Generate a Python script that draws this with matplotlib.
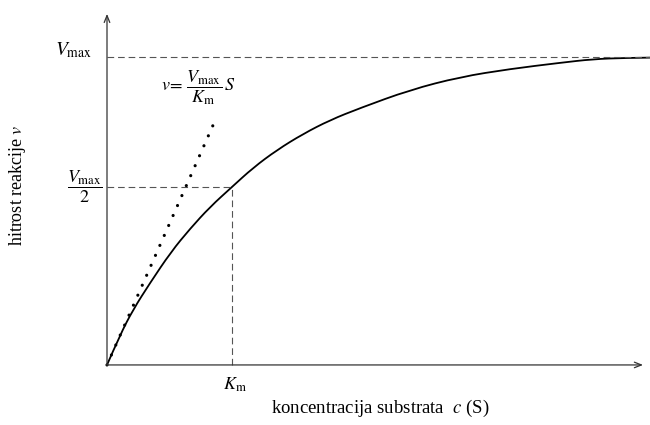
import numpy as np
import matplotlib
matplotlib.use('Agg')
import matplotlib.pyplot as plt
from matplotlib.path import Path
from matplotlib.patches import PathPatch

# Km = 1, Vmax = 1
s_vals = [0, 0.104, 0.208, 0.344, 0.512, 0.664, 0.824, 1.0, 1.168, 1.36,
          1.568, 1.784, 2.024, 2.424, 2.824, 3.224, 3.624, 3.888, 4.144, 4.36]
v_vals = [0, 0.097, 0.179, 0.266, 0.367, 0.442, 0.513, 0.578, 0.640, 0.698,
          0.750, 0.795, 0.834, 0.893, 0.935, 0.961, 0.981, 0.993, 0.997, 0.998]
v_max = 1.0
v_half = 0.578
k_m = 1.0
tangent_s = [0, 0.85]
tangent_v = [0, 0.78]

plt.rcParams['font.family'] = ['Liberation Serif', 'DejaVu Serif']
plt.rcParams['mathtext.fontset'] = 'stix'


def smooth_path(xs, ys):
    # quadratic bezier through midpoints, points used as control points
    pts = np.column_stack([xs, ys])
    verts = [pts[0]]
    codes = [Path.MOVETO]
    for i in range(1, len(pts) - 1):
        end = pts[i + 1] if i == len(pts) - 2 else (pts[i] + pts[i + 1]) / 2
        verts += [pts[i], end]
        codes += [Path.CURVE3, Path.CURVE3]
    return Path(verts, codes)


fig = plt.figure(figsize=(6.5, 4.25), dpi=100)
ax = fig.add_axes([0, 0, 1, 1])
ax.set_xlim(-0.856, 4.344)
ax.set_ylim(-0.195, 1.185)
ax.axis('off')

axis_col = '#333333'
dash_col = '#555555'

# axes with arrows
ax.annotate('', xy=(4.288, 0), xytext=(0, 0),
            arrowprops=dict(arrowstyle='->,head_length=0.5,head_width=0.2',
                            color=axis_col, lw=0.9, shrinkA=0, shrinkB=0))
ax.annotate('', xy=(0, 1.14), xytext=(0, 0),
            arrowprops=dict(arrowstyle='->,head_length=0.5,head_width=0.2',
                            color=axis_col, lw=0.9, shrinkA=0, shrinkB=0))

# guide lines
ax.plot([0, 4.4], [v_max, v_max], color=dash_col, lw=0.8, ls=(0, (6, 3.5)))
ax.plot([0, k_m], [v_half, v_half], color=dash_col, lw=0.8, ls=(0, (6, 3.5)))
ax.plot([k_m, k_m], [0, v_half], color=dash_col, lw=0.8, ls=(0, (6, 3.5)))

# initial slope, dotted
ax.plot(tangent_s, tangent_v, color='black', lw=2.3, ls=(0, (0.01, 3.4)),
        dash_capstyle='round')

# saturation curve
ax.add_patch(PathPatch(smooth_path(s_vals, v_vals), facecolor='none',
                       edgecolor='black', lw=1.3, capstyle='round'))

# labels
ax.text(-0.27, 1.023, r'$V_{\mathrm{max}}$', fontsize=14, ha='center', va='center')
ax.text(-0.18, 0.578, r'$\dfrac{V_{\mathrm{max}}}{2}$', fontsize=13,
        ha='center', va='center')
ax.text(0.73, 0.899, r'$v\!=\,\dfrac{V_{\mathrm{max}}}{K_{\mathrm{m}}}\,S$',
        fontsize=13, ha='center', va='center')
ax.text(1.02, -0.065, r'$K_{\mathrm{m}}$', fontsize=13, ha='center', va='center')
ax.text(2.184, -0.14, r'koncentracija substrata  $c$ (S)', fontsize=13.5,
        ha='center', va='center')
ax.text(-0.72, 0.584, r'hitrost reakcije $v$', fontsize=13, rotation=90,
        ha='center', va='center')

fig.savefig('out.png', dpi=100)
